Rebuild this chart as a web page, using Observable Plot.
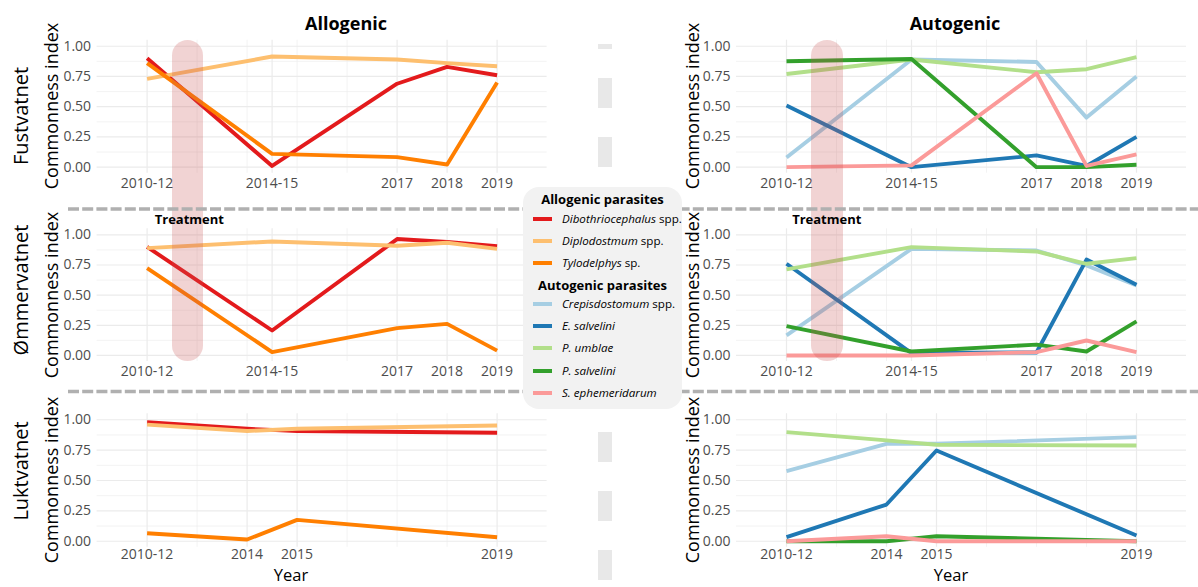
<!DOCTYPE html>
<html>
<head>
<meta charset="utf-8">
<script src="https://cdn.jsdelivr.net/npm/d3@7"></script>
<script src="https://cdn.jsdelivr.net/npm/@observablehq/plot@0.6"></script>
<style>
  html, body { margin: 0; padding: 0; background: #fff; }
  #chart { position: relative; width: 1198px; height: 587px; overflow: hidden; font-family: "Open Sans", sans-serif; }
  #chart .panel { position: absolute; z-index: 1; }
  #chart .panel svg { display: block; overflow: visible; }
  .lbl { position: absolute; white-space: nowrap; line-height: 1; transform: translate(-50%, -50%); z-index: 4; color: #000; }
  .rot { transform: translate(-50%, -50%) rotate(-90deg); }
  .title { font-size: 18px; font-weight: 700; }
  .lake { font-size: 20px; }
  .ytitle { font-size: 18px; }
  .xtitle { font-size: 16.5px; }
  .treat { font-size: 13px; font-weight: 700; }
  .band { position: absolute; z-index: 2; background: rgba(200, 80, 80, 0.25); }
  #legend { position: absolute; z-index: 5; background: #f2f2f2; border-radius: 16px; }
  #legend .head { position: absolute; left: 0; right: 0; text-align: center; font-weight: 700; font-size: 13px; transform: translateY(-50%); line-height: 1; }
  #legend .item { position: absolute; font-size: 11.6px; line-height: 1; transform: translateY(-50%); white-space: nowrap; }
  #legend .key { position: absolute; height: 4px; width: 19px; transform: translateY(-50%); }
  #overlay { position: absolute; left: 0; top: 0; z-index: 3; }
</style>
</head>
<body>
<div id="chart"></div>
<script>
// Sampling periods (x positions) and their tick labels
const periods = [2012, 2014.5, 2017, 2018, 2019];
const periodLabels = ["2010-12", "2014-15", "2017", "2018", "2019"];
const periodsLukt = [2012, 2014, 2015, 2019];
const periodLabelsLukt = ["2010-12", "2014", "2015", "2019"];

const lakes = ["Fustvatnet", "Ømmervatnet", "Luktvatnet"];
const groups = ["Allogenic", "Autogenic"];

const allogenicSpecies = ["Dibothriocephalus spp.", "Diplodostmum spp.", "Tylodelphys sp."];
const autogenicSpecies = ["Crepisdostomum spp.", "E. salvelini", "P. umblae", "P. salvelini", "S. ephemeridarum"];
const allogenicColors = ["#e31a1c", "#fdbf6f", "#ff7f00"];
const autogenicColors = ["#a6cee3", "#1f78b4", "#b2df8a", "#33a02c", "#fb9a99"];

const yTicks = [0, 0.25, 0.5, 0.75, 1];
const yMinor = [0.125, 0.375, 0.625, 0.875];
const xMinor = [2013, 2014, 2015, 2016];
const xMinorLukt = [2013, 2016, 2017, 2018];
const treatmentSpan = [2012.5, 2013.13];

// Commonness index, one row per species (same order as the species lists)
const fustvatnetAllogenic = [
  [0.90, 0.01, 0.69, 0.83, 0.76],
  [0.73, 0.915, 0.89, 0.86, 0.835],
  [0.86, 0.11, 0.083, 0.022, 0.70]
];
const fustvatnetAutogenic = [
  [0.08, 0.89, 0.87, 0.41, 0.75],
  [0.51, 0.00, 0.097, 0.01, 0.25],
  [0.77, 0.89, 0.785, 0.81, 0.91],
  [0.876, 0.895, 0.00, 0.00, 0.02],
  [0.00, 0.015, 0.777, 0.01, 0.105]
];
const ommervatnetAllogenic = [
  [0.90, 0.207, 0.965, 0.94, 0.906],
  [0.89, 0.945, 0.91, 0.934, 0.884],
  [0.724, 0.028, 0.227, 0.262, 0.04]
];
const ommervatnetAutogenic = [
  [0.166, 0.884, 0.87, 0.746, 0.58],
  [0.76, 0.02, 0.025, 0.795, 0.586],
  [0.713, 0.898, 0.862, 0.76, 0.807],
  [0.243, 0.033, 0.09, 0.033, 0.282],
  [0.00, 0.00, 0.028, 0.124, 0.028]
];
const luktvatnetAllogenic = [
  [0.98, 0.926, 0.907, 0.893],
  [0.96, 0.907, 0.926, 0.953],
  [0.066, 0.014, 0.176, 0.033]
];
const luktvatnetAutogenic = [
  [0.577, 0.802, 0.802, 0.857],
  [0.033, 0.302, 0.747, 0.047],
  [0.898, 0.83, 0.794, 0.788],
  [0.00, 0.00, 0.041, 0.00],
  [0.00, 0.041, 0.00, 0.00]
];

// Page layout: rows (lakes) and columns (parasite groups)
const rowBoxes = [
  {top: 0, height: 200, mt: 39.7, mb: 27.3, pad: 5},
  {top: 200, height: 190, mt: 28.3, mb: 29, pad: 5},
  {top: 390, height: 197, mt: 23.2, mb: 40.2, pad: 2}
];
const colBoxes = [
  {left: 0, width: 560, ml: 96.6, mr: 13.4},
  {left: 600, width: 598, ml: 136, mr: 12}
];

const chart = document.getElementById("chart");

function tidy(matrix, species, xs) {
  const out = [];
  matrix.forEach((vals, i) => vals.forEach((v, j) => out.push({species: species[i], year: xs[j], value: v})));
  return out;
}

function panel(matrix, species, colors, xs, xLabels, xm, row, col) {
  const data = tidy(matrix, species, xs);
  const grid = {stroke: "#ebebeb", strokeOpacity: 1};
  const svg = Plot.plot({
    width: col.width,
    height: row.height,
    marginLeft: col.ml,
    marginRight: col.mr,
    marginTop: row.mt,
    marginBottom: row.mb,
    style: {background: "transparent", fontFamily: "'Open Sans', sans-serif", fontSize: "14px", color: "#4d4d4d", overflow: "visible"},
    x: {domain: [2011, 2020]},
    y: {domain: [-0.05, 1.05]},
    color: {domain: species, range: colors},
    marks: [
      Plot.gridX(xm, {...grid, strokeWidth: 0.6}),
      Plot.gridY(yMinor, {...grid, strokeWidth: 0.6}),
      Plot.gridX(xs, {...grid, strokeWidth: 1.2}),
      Plot.gridY(yTicks, {...grid, strokeWidth: 1.2}),
      Plot.axisX(xs, {tickSize: 0, tickPadding: row.pad, tickFormat: (d) => xLabels[xs.indexOf(d)], label: null, fill: "#4d4d4d"}),
      Plot.axisY(yTicks, {tickSize: 0, tickPadding: 6, tickFormat: d3.format(".2f"), label: null, fill: "#4d4d4d"}),
      Plot.line(data, {x: "year", y: "value", z: "species", stroke: "species", strokeWidth: 3.9, strokeLinecap: "butt", strokeLinejoin: "round"})
    ]
  });
  const holder = document.createElement("div");
  holder.className = "panel";
  holder.style.left = col.left + "px";
  holder.style.top = row.top + "px";
  holder.appendChild(svg);
  chart.appendChild(holder);
  return svg;
}

const panelData = [
  [fustvatnetAllogenic, fustvatnetAutogenic],
  [ommervatnetAllogenic, ommervatnetAutogenic],
  [luktvatnetAllogenic, luktvatnetAutogenic]
];

const plots = panelData.map((pair, r) => pair.map((m, c) => {
  const xs = r === 2 ? periodsLukt : periods;
  const xl = r === 2 ? periodLabelsLukt : periodLabels;
  const xm = r === 2 ? xMinorLukt : xMinor;
  const sp = c === 0 ? allogenicSpecies : autogenicSpecies;
  const cl = c === 0 ? allogenicColors : autogenicColors;
  return panel(m, sp, cl, xs, xl, xm, rowBoxes[r], colBoxes[c]);
}));

function label(text, cls, x, y) {
  const d = document.createElement("div");
  d.className = "lbl " + cls;
  d.textContent = text;
  d.style.left = x + "px";
  d.style.top = y + "px";
  chart.appendChild(d);
  return d;
}

// Column titles
label(groups[0], "title", 346, 23);
label(groups[1], "title", 955, 23);

// Lake names and y-axis titles
const lakeCenters = [116, 290, 471];
lakes.forEach((lake, r) => {
  label(lake, "lake rot", 21, lakeCenters[r]);
  const yc = rowBoxes[r].top + rowBoxes[r].mt + (rowBoxes[r].height - rowBoxes[r].mt - rowBoxes[r].mb) / 2;
  label("Commonness index", "ytitle rot", 51, yc);
  label("Commonness index", "ytitle rot", 692, yc);
});

// x-axis titles under the bottom row
label("Year", "xtitle", 291, 575);
label("Year", "xtitle", 951, 575);

// Treatment band spanning the first two rows, positioned through the panel scales
[0, 1].forEach((c) => {
  const top = plots[0][c], mid = plots[1][c];
  const sx = top.scale("x");
  const x1 = colBoxes[c].left + sx.apply(treatmentSpan[0]);
  const x2 = colBoxes[c].left + sx.apply(treatmentSpan[1]);
  const y1 = rowBoxes[0].top + top.scale("y").apply(1.05);
  const y2 = rowBoxes[1].top + mid.scale("y").apply(-0.05);
  const band = document.createElement("div");
  band.className = "band";
  band.style.left = x1 + "px";
  band.style.top = y1 + "px";
  band.style.width = (x2 - x1) + "px";
  band.style.height = (y2 - y1) + "px";
  band.style.borderRadius = ((x2 - x1) / 2) + "px";
  chart.appendChild(band);
  label("Treatment", "treat", (x1 + x2) / 2 + (c === 0 ? 2 : 0), rowBoxes[1].top + mid.scale("y").apply(1.05) - 9.5);
});

// Dashed separators between rows and the column divider
const overlay = d3.create("svg").attr("id", "overlay").attr("width", 1198).attr("height", 587);
[209, 391.5].forEach((y) => {
  overlay.append("line").attr("x1", 68).attr("x2", 1198).attr("y1", y).attr("y2", y)
    .attr("stroke", "#b0b0b0").attr("stroke-width", 3.3).attr("stroke-dasharray", "11 3.2");
});
overlay.append("line").attr("x1", 605).attr("x2", 605).attr("y1", 44).attr("y2", 580)
  .attr("stroke", "#e8e8e8").attr("stroke-width", 14).attr("stroke-dasharray", "30 29").attr("stroke-dashoffset", 25);
chart.appendChild(overlay.node());

// Legend
const legend = document.createElement("div");
legend.id = "legend";
Object.assign(legend.style, {left: "523px", top: "187px", width: "159px", height: "222px"});
function speciesHtml(name) {
  const m = name.match(/^(.*?)( spp?\.)$/);
  return m ? `<i>${m[1]}</i>${m[2]}` : `<i>${name}</i>`;
}
function legendHead(text, y) {
  const h = document.createElement("div");
  h.className = "head";
  h.textContent = text;
  h.style.top = y + "px";
  legend.appendChild(h);
}
function legendItem(name, color, y) {
  const k = document.createElement("div");
  k.className = "key";
  k.style.left = "10px";
  k.style.top = y + "px";
  k.style.background = color;
  legend.appendChild(k);
  const t = document.createElement("div");
  t.className = "item";
  t.style.left = "39px";
  t.style.top = y + "px";
  t.innerHTML = speciesHtml(name);
  legend.appendChild(t);
}
legendHead("Allogenic parasites", 11.5);
allogenicSpecies.forEach((s, i) => legendItem(s, allogenicColors[i], 32.3 + i * 22));
legendHead("Autogenic parasites", 98);
autogenicSpecies.forEach((s, i) => legendItem(s, autogenicColors[i], 117 + i * 22.2));
chart.appendChild(legend);
</script>
</body>
</html>
